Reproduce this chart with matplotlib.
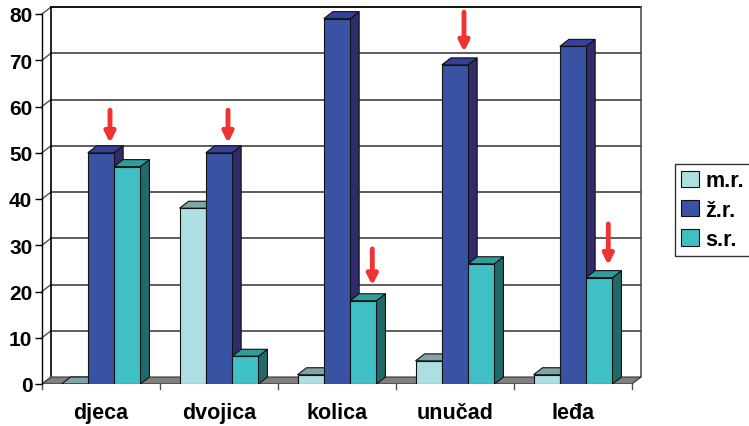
import matplotlib
matplotlib.use("Agg")
import matplotlib.pyplot as plt
from matplotlib.patches import Polygon, Rectangle, Patch
import numpy as np

plt.rcParams['font.family'] = ['Liberation Sans', 'DejaVu Sans']
plt.rcParams['font.weight'] = 'bold'

categories = ["djeca", "dvojica", "kolica", "unučad", "leđa"]
series_names = ["m.r.", "ž.r.", "s.r."]
m_r = [0, 38, 2, 5, 2]
z_r = [50, 50, 79, 69, 73]
s_r = [47, 6, 18, 26, 23]
values = [m_r, z_r, s_r]
yticks = [0, 10, 20, 30, 40, 50, 60, 70, 80]
# arrows: (category index, series index, tip value, tail value)
arrows = [(0, 1, 52.1, 59.2), (1, 1, 52.1, 59.2), (2, 2, 21.3, 29.2),
          (3, 1, 71.8, 80.4), (4, 2, 25.7, 34.6)]

front_c = ["#ADDEE2", "#3953A4", "#40C0C4"]
top_c = ["#7FA5A8", "#35409A", "#2E9E9A"]
side_c = ["#5F8A8D", "#2F2B6C", "#206A6A"]

W, H = 749, 427
fig = plt.figure(figsize=(W / 100, H / 100), dpi=100)
# pixel geometry
px_left, px_front_right, px_bottom, px_top80 = 42, 632, 385, 15
ddx_px, ddy_px = 9, 7
cat_px = (px_front_right - px_left) / len(categories)
unit_px = (px_bottom - px_top80) / 80.0
dx = ddx_px / cat_px
dy = ddy_px / unit_px
xmax = len(categories) + dx
ymax = 80 + dy
ax = fig.add_axes([px_left / W, (H - px_bottom) / H,
                   (xmax * cat_px) / W, (ymax * unit_px) / H])
ax.set_xlim(0, xmax)
ax.set_ylim(0, ymax)
for s in ax.spines.values():
    s.set_visible(False)

lc = "#000000"
gc = "#505050"
# floor
ax.add_patch(Polygon([(0, 0), (len(categories), 0), (xmax, dy), (dx, dy)],
                     closed=True, facecolor="#808080", edgecolor="#333333",
                     lw=0.8, zorder=1))
# back wall gridlines and side-wall gridlines
for v in yticks[1:]:
    ax.plot([dx, xmax], [v + dy, v + dy], color=gc if v < 80 else lc,
            lw=1.3, zorder=0.5, clip_on=False)
    ax.plot([0, dx], [v, v + dy], color=gc, lw=1.0, zorder=0.5, clip_on=False)
ax.plot([0, dx], [0, dy], color=gc, lw=1.0, zorder=2, clip_on=False)
# walls edges
ax.plot([dx, dx], [dy, ymax], color=lc, lw=1.2, zorder=0.6, clip_on=False)
ax.plot([xmax, xmax], [dy, ymax], color=gc, lw=1.2, zorder=0.6, clip_on=False)
ax.plot([0, 0], [0, 80], color=lc, lw=1.0, zorder=3, clip_on=False)

# bars
w = 26.3 / cat_px
off = (1 - 3 * w) / 2
for i in range(len(categories)):
    for j in range(3):
        h = values[j][i]
        x0 = i + off + j * w
        ax.add_patch(Polygon([(x0 + w, 0), (x0 + w + dx, dy), (x0 + w + dx, h + dy), (x0 + w, h)],
                             closed=True, facecolor=side_c[j], edgecolor="#111111", lw=0.8, zorder=4))
        ax.add_patch(Polygon([(x0, h), (x0 + w, h), (x0 + w + dx, h + dy), (x0 + dx, h + dy)],
                             closed=True, facecolor=top_c[j], edgecolor="#111111", lw=0.8, zorder=4))
        if h > 0:
            ax.add_patch(Rectangle((x0, 0), w, h, facecolor=front_c[j],
                                   edgecolor="#111111", lw=0.8, zorder=4))

# arrows
for (ci, sj, tip, tail) in arrows:
    xc = ci + off + sj * w + w / 2 + dx
    ax.annotate("", xy=(xc, tip), xytext=(xc, tail),
                arrowprops=dict(arrowstyle="-|>,head_length=0.6,head_width=0.3",
                                color="#EE3333", lw=3.5, shrinkA=0, shrinkB=0),
                zorder=6, annotation_clip=False)

# axes ticks
ax.set_yticks(yticks)
ax.set_yticklabels([str(v) for v in yticks], fontsize=15, fontweight='bold')
ax.tick_params(axis='y', length=5, width=1.0, color=lc, pad=2)
ax.set_xticks(np.arange(len(categories)) + 0.5)
ax.set_xticklabels(categories, fontsize=15.5, fontweight='bold')
ax.tick_params(axis='x', length=0, pad=13)
for k in range(len(categories) + 1):
    ax.plot([k, k], [0, -5 / unit_px], color=gc, lw=1.0, clip_on=False, zorder=2)

# legend
handles = [Patch(facecolor=front_c[j], edgecolor="#111111", lw=0.8) for j in range(3)]
leg = fig.legend(handles, series_names, loc="upper left",
                 bbox_to_anchor=(675 / W, 1 - 165 / H), frameon=True,
                 fancybox=False, edgecolor="#000000", prop=dict(size=15.5, weight='bold'),
                 handlelength=0.8, handleheight=0.8, handletextpad=0.3,
                 labelspacing=0.38, borderpad=0.3, borderaxespad=0)
leg.get_frame().set_linewidth(1.0)

fig.savefig("out.png", dpi=100)
